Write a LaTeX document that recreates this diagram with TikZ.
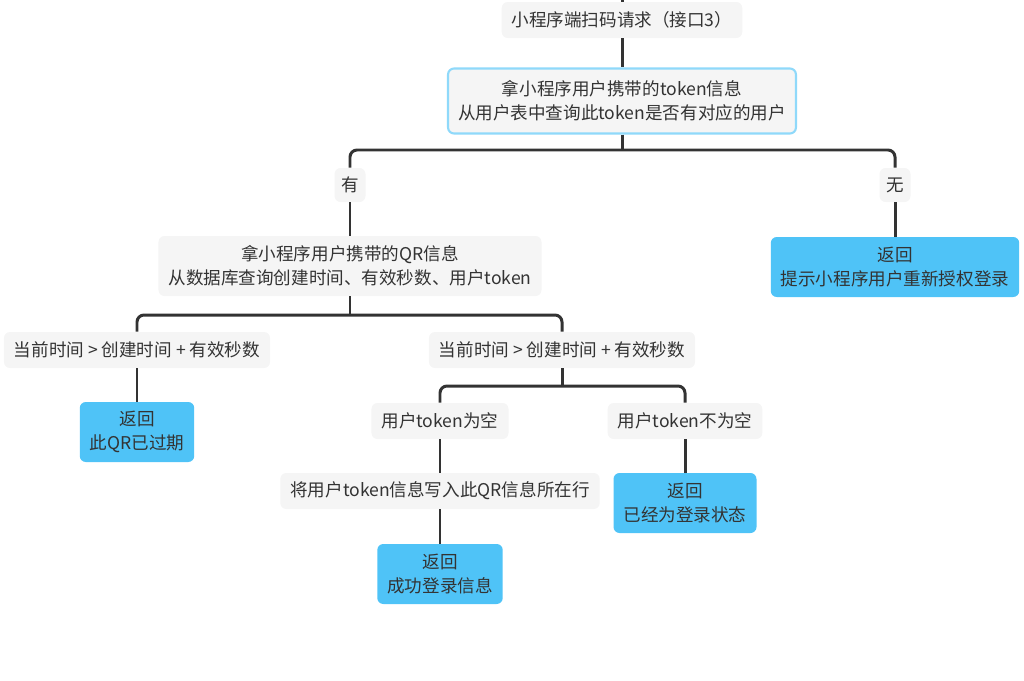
\documentclass[tikz,border=0pt]{standalone}
\usepackage{fontspec}
\setmainfont{Noto Sans CJK SC}
\usepackage{xcolor}
\usepackage{tikz}
\usetikzlibrary{calc}
\definecolor{ink}{HTML}{333333}
\definecolor{wirec}{HTML}{333333}
\definecolor{panel}{HTML}{F5F5F5}
\definecolor{sky}{HTML}{4FC3F7}
\definecolor{skyline}{HTML}{8FD9FA}
\tikzset{
  box/.style={fill=panel, rounded corners=0.12cm, text=ink, align=center,
    inner xsep=0.2cm, inner ysep=0.08cm, font=\fontsize{10pt}{13.6pt}\selectfont},
  onebox/.style={box, minimum height=0.72cm},
  twobox/.style={box, minimum height=1.2cm},
  query/.style={twobox, draw=skyline, line width=1.2pt, minimum height=1.3cm},
  ret/.style={twobox, fill=sky},
  tag/.style={box, minimum width=0.62cm, minimum height=0.68cm, inner xsep=0.08cm},
  wire/.style={draw=wirec, line width=1.7pt},
  fork/.style={wire, rounded corners=0.14cm}
}

\begin{document}
\begin{tikzpicture}[x=0.02cm, y=-0.02cm]
  \useasboundingbox (0,0) rectangle (1024,680);

  \node[onebox] (start) at (622,20) {小程序端扫码请求（接口3）};
  \node[query] (q1) at (622,101) {拿小程序用户携带的token信息\\从用户表中查询此token是否有对应的用户};
  \node[tag] (yes) at (350,185) {有};
  \node[tag] (no) at (895,185) {无};
  \node[twobox] (q2) at (350,266) {拿小程序用户携带的QR信息\\从数据库查询创建时间、有效秒数、用户token};
  \node[ret] (r1) at (895,267) {返回\\提示小程序用户重新授权登录};
  \node[onebox] (c1) at (137,350) {当前时间 > 创建时间 + 有效秒数};
  \node[onebox] (c2) at (562,350) {当前时间 > 创建时间 + 有效秒数};
  \node[ret] (r2) at (137,432) {返回\\此QR已过期};
  \node[onebox] (c3) at (440,421) {用户token为空};
  \node[onebox] (c4) at (685,421) {用户token不为空};
  \node[onebox] (w1) at (440,491) {将用户token信息写入此QR信息所在行};
  \node[ret] (r3) at (440,574) {返回\\成功登录信息};
  \node[ret] (r4) at (685,503) {返回\\已经为登录状态};

  \coordinate (top) at (622,0);
  \coordinate (f1) at (622,150);
  \coordinate (f2) at (350,315);
  \coordinate (f3) at (562,386);

  \draw[wire] (top) -- (start.north);
  \draw[wire] (start.south) -- (q1.north);
  % branch on the user lookup
  \draw[wire] (q1.south) -- (f1);
  \draw[fork] (yes.north) |- (f1) -| (no.north);
  \draw[wire] (yes.south) -- (q2.north);
  \draw[wire] (no.south) -- (r1.north);
  % branch on the QR age
  \draw[wire] (q2.south) -- (f2);
  \draw[fork] (c1.north) |- (f2) -| (c2.north);
  \draw[wire] (c1.south) -- (r2.north);
  \draw[wire] (c2.south) -- (f3);
  \draw[fork] (c3.north) |- (f3) -| (c4.north);
  \draw[wire] (c3.south) -- (w1.north);
  \draw[wire] (w1.south) -- (r3.north);
  \draw[wire] (c4.south) -- (r4.north);
\end{tikzpicture}
\end{document}
